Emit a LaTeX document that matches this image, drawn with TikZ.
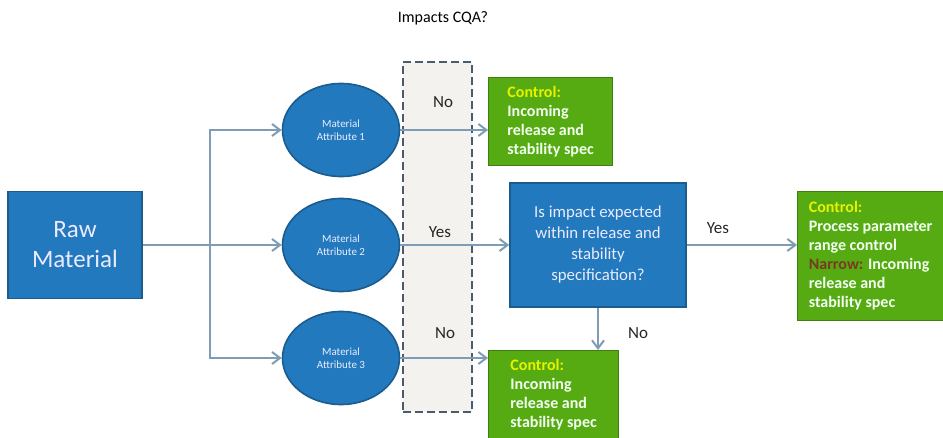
\documentclass[tikz,border=0pt]{standalone}
\usepackage{fontspec}
\setmainfont{Carlito}
\usetikzlibrary{shapes.geometric,arrows.meta}
\definecolor{rawblue}{HTML}{2379BD}
\definecolor{rawedge}{HTML}{1B5C8E}
\definecolor{ctrlgreen}{HTML}{57AB12}
\definecolor{ctrledge}{HTML}{3F7E10}
\definecolor{linkgray}{HTML}{7E9DB4}
\definecolor{gatefill}{HTML}{F3F2EE}
\definecolor{gateedge}{HTML}{4A5B6C}
\definecolor{ctrlyellow}{HTML}{E6F200}
\definecolor{narrowred}{HTML}{7A3A22}
\begin{document}
\begin{tikzpicture}[x=0.5pt, y=-0.5pt, >={Straight Barb[length=4pt,width=6pt]},
    block/.style={rectangle, fill=rawblue, draw=rawedge, line width=0.8pt, text=blue!8, align=center},
    attr/.style={ellipse, fill=rawblue, draw=rawedge, line width=0.8pt, text=blue!8, align=center,
        minimum width=58.5pt, minimum height=46.5pt, inner sep=0pt, font=\fontsize{5.5}{6.5}\selectfont},
    ctrl/.style={rectangle, fill=ctrlgreen, draw=ctrledge, line width=0.6pt, text=green!5, align=left,
        anchor=north west, inner sep=3pt, font=\bfseries\fontsize{8}{9.5}\selectfont},
    link/.style={draw=linkgray, line width=1pt, ->},
    answer/.style={font=\fontsize{8.5}{10}\selectfont, text=black!85}]
    \useasboundingbox (0,0) rectangle (943,438);
    % Gate
    \node[draw=gateedge, dash pattern=on 4pt off 2pt, line width=1.2pt, fill=gatefill,
        minimum width=34.5pt, minimum height=175pt] (gate) at (437.5,237) {};
    \node[font=\fontsize{8}{10}\selectfont] (title) at (443,18) {Impacts CQA?};
    % Blocks
    \node[block, minimum width=67pt, minimum height=53.5pt, font=\fontsize{12.5}{15}\selectfont]
        (raw) at (75,245) {Raw\\Material};
    \node[attr] (att1) at (341,130) {Material\\Attribute 1};
    \node[attr] (att2) at (341,245) {Material\\Attribute 2};
    \node[attr] (att3) at (341,358) {Material\\Attribute 3};
    \node[block, minimum width=88pt, minimum height=62pt, font=\fontsize{8.4}{10.5}\selectfont]
        (query) at (598,245) {Is impact expected\\within release and\\stability\\specification?};
    % Controls
    \node[ctrl, minimum width=62pt, minimum height=44pt] (ctrlA) at (488,77)
        {\textcolor{ctrlyellow}{Control:}\\Incoming\\release and\\stability spec};
    \node[ctrl, minimum width=65pt, minimum height=44pt] (ctrlC) at (488,350)
        {\textcolor{ctrlyellow}{Control:}\\Incoming\\release and\\stability spec};
    \node[ctrl, minimum width=73pt, minimum height=64.5pt, inner sep=2pt] (ctrlB) at (797,191)
        {\textcolor{ctrlyellow}{Control:}\\Process parameter\\range control\\\textcolor{narrowred}{Narrow:} Incoming\\release and\\stability spec};
    % Links
    \coordinate (split) at (210,245);
    \draw[link] (raw.east) -- (att2.west);
    \draw[link] (split) |- (att1.west);
    \draw[link] (split) |- (att3.west);
    \draw[link] (att1.east) -- (att1.east -| ctrlA.west);
    \draw[link] (att2.east) -- (query.west);
    \draw[link] (att3.east) -- (att3.east -| ctrlC.west);
    \draw[link] (query.east) -- (query.east -| ctrlB.west);
    \draw[link] (query.south) -- (query.south |- ctrlC.north);
    % Answers
    \node[answer] (noA) at (443,102) {No};
    \node[answer] (yesA) at (440,232) {Yes};
    \node[answer] (noC) at (445,333) {No};
    \node[answer] (yesB) at (718,228) {Yes};
    \node[answer] (noB) at (638,333) {No};
\end{tikzpicture}
\end{document}
